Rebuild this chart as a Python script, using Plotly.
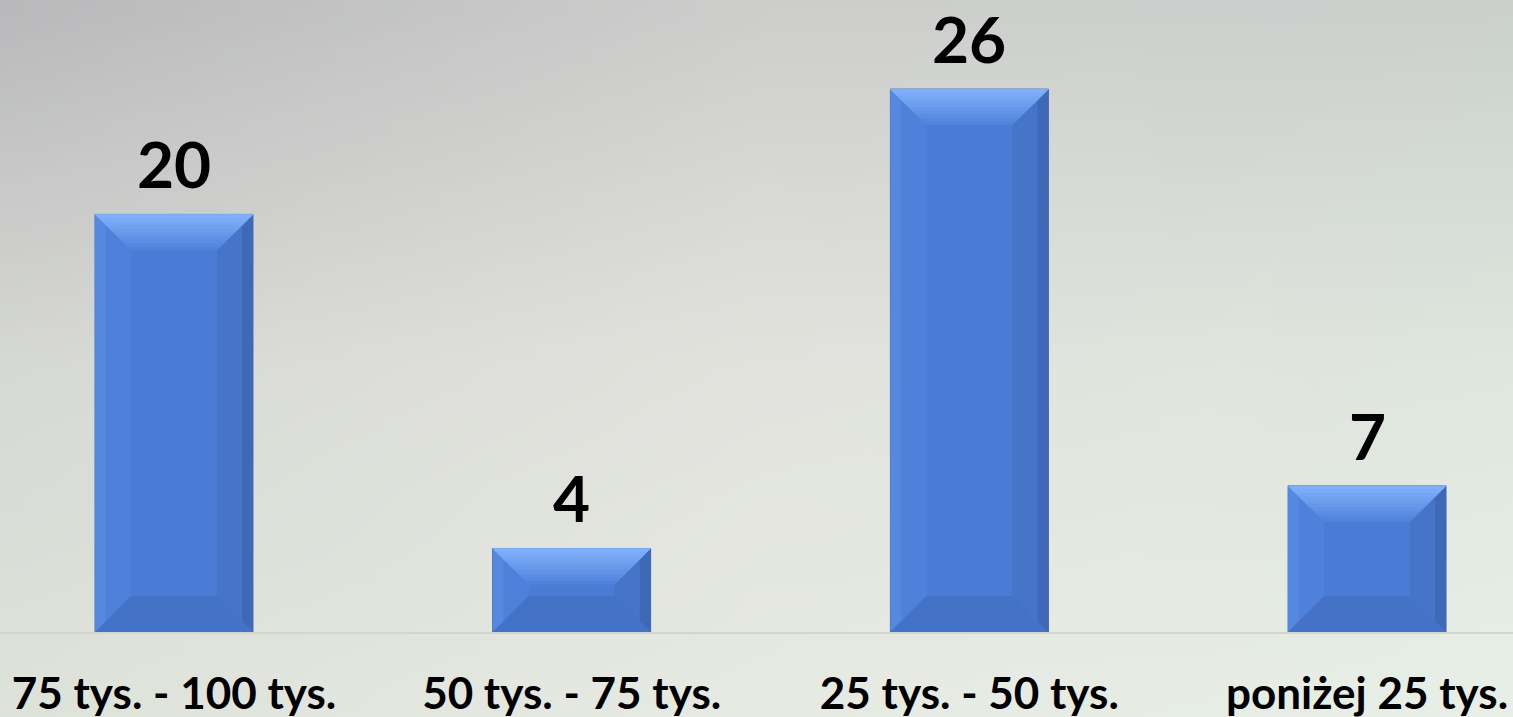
import base64
import struct
import zlib

import plotly.graph_objects as go

# ---- data ----
categories = ["75 tys. - 100 tys.", "50 tys. - 75 tys.", "25 tys. - 50 tys.", "poniżej 25 tys."]
values = [20, 4, 26, 7]

# ---- style ----
W, H = 1513, 717
MARGIN_B = 85
BAR_W = 0.397
BEVEL_PX = 36
X_RANGE = [-0.4375, 3.367]
Y_RANGE = [0, 30.27]
FONT = "Lato"

# background gradient colours (rows: top, mid, bottom; cols: left, center, right)
bg_grid = [
    [(0xB9, 0xB9, 0xBB), (0xCD, 0xCE, 0xCC), (0xCB, 0xD0, 0xCD)],
    [(0xD6, 0xD8, 0xD4), (0xE2, 0xE2, 0xDD), (0xDE, 0xE6, 0xDD)],
    [(0xDE, 0xE3, 0xDA), (0xE6, 0xEA, 0xE2), (0xE7, 0xEF, 0xE6)],
]


def make_png(w, h, grid):
    rows = []
    for j in range(h):
        fy = j / (h - 1) * 2
        gy = min(int(fy), 1)
        ty = fy - gy
        row = bytearray()
        for i in range(w):
            fx = i / (w - 1) * 2
            gx = min(int(fx), 1)
            tx = fx - gx
            c = []
            for k in range(3):
                a = grid[gy][gx][k] * (1 - tx) + grid[gy][gx + 1][k] * tx
                b = grid[gy + 1][gx][k] * (1 - tx) + grid[gy + 1][gx + 1][k] * tx
                c.append(int(round(a * (1 - ty) + b * ty)))
            row += bytes(c)
        rows.append(b"\x00" + bytes(row))
    raw = b"".join(rows)

    def chunk(t, d):
        return struct.pack(">I", len(d)) + t + d + struct.pack(">I", zlib.crc32(t + d) & 0xFFFFFFFF)

    png = b"\x89PNG\r\n\x1a\n"
    png += chunk(b"IHDR", struct.pack(">IIBBBBB", w, h, 8, 2, 0, 0, 0))
    png += chunk(b"IDAT", zlib.compress(raw, 9))
    png += chunk(b"IEND", b"")
    return "data:image/png;base64," + base64.b64encode(png).decode()


bg_uri = make_png(160, 80, bg_grid)

xs = list(range(len(categories)))

fig = go.Figure()
fig.add_trace(go.Bar(
    x=xs, y=values, width=BAR_W,
    marker=dict(color="#4a7cd6", line=dict(color="#3560a8", width=1)),
    hoverinfo="skip", showlegend=False,
))

# bevel shapes derived from the bar geometry
plot_h = H - MARGIN_B
px_per_x = W / (X_RANGE[1] - X_RANGE[0])
px_per_y = plot_h / (Y_RANGE[1] - Y_RANGE[0])
bx = BEVEL_PX / px_per_x
shapes = []


def poly(pts, color):
    path = "M " + " L ".join(f"{x},{y}" for x, y in pts) + " Z"
    return dict(type="path", path=path, xref="x", yref="y", fillcolor=color,
                line=dict(width=0), layer="above")


def lerp_hex(c1, c2, t):
    a = [int(c1[i:i + 2], 16) for i in (1, 3, 5)]
    b = [int(c2[i:i + 2], 16) for i in (1, 3, 5)]
    return "#" + "".join(f"{int(round(a[k] + (b[k] - a[k]) * t)):02x}" for k in range(3))


N_TOP = 10
top_bands = [lerp_hex("#80b0fb", "#5084dc", k / (N_TOP - 1)) for k in range(N_TOP)]
for x, v in zip(xs, values):
    x0, x1 = x - BAR_W / 2, x + BAR_W / 2
    by = min(BEVEL_PX / px_per_y, v / 2)
    bxx = min(bx, by * px_per_y / px_per_x)
    # left
    shapes.append(poly([(x0, 0), (x0, v), (x0 + bxx, v - by), (x0 + bxx, by)], "#4e82da"))
    shapes.append(poly([(x0, 0), (x0, v), (x0 + bxx * 0.3, v - by * 0.3), (x0 + bxx * 0.3, by * 0.3)], "#5589e0"))
    # right
    shapes.append(poly([(x1, 0), (x1, v), (x1 - bxx, v - by), (x1 - bxx, by)], "#4574c8"))
    shapes.append(poly([(x1, 0), (x1, v), (x1 - bxx * 0.3, v - by * 0.3), (x1 - bxx * 0.3, by * 0.3)], "#3d69b6"))
    # bottom
    shapes.append(poly([(x0, 0), (x1, 0), (x1 - bxx, by), (x0 + bxx, by)], "#4372c6"))
    # top, in gradient bands (outer edge lightest)
    for k in range(N_TOP - 1, -1, -1):
        f = (k + 1) / N_TOP
        shapes.append(poly([(x0, v), (x1, v), (x1 - bxx * f, v - by * f), (x0 + bxx * f, v - by * f)],
                           top_bands[k]))

annotations = [
    dict(x=x, y=v, text=f"<b>{v}</b>", showarrow=False, xref="x", yref="y",
         yanchor="bottom", yshift=10,
         font=dict(family=FONT, size=64, color="#000000"))
    for x, v in zip(xs, values)
]

fig.update_layout(
    width=W, height=H,
    margin=dict(l=0, r=0, t=0, b=MARGIN_B, pad=0, autoexpand=False),
    paper_bgcolor="#dde2da",
    plot_bgcolor="rgba(0,0,0,0)",
    images=[dict(source=bg_uri, xref="paper", yref="paper", x=0, y=1,
                 sizex=1, sizey=H / plot_h, xanchor="left", yanchor="top",
                 sizing="stretch", layer="below")],
    shapes=shapes,
    annotations=annotations,
    showlegend=False,
    xaxis=dict(range=X_RANGE, tickvals=xs, ticktext=[f"<b>{c}</b>" for c in categories],
               tickfont=dict(family=FONT, size=44, color="#000000"),
               showgrid=False, zeroline=False, showline=True, linecolor="#d3d5d0", linewidth=2,
               ticks="", ticklabelstandoff=22, automargin=False, fixedrange=True),
    yaxis=dict(range=Y_RANGE, visible=False, showgrid=False, zeroline=False,
               automargin=False, fixedrange=True),
)

fig.write_html(
    "out.html",
    config={"displayModeBar": False},
    post_script="document.body.style.margin='0';document.body.style.overflow='hidden';",
)
